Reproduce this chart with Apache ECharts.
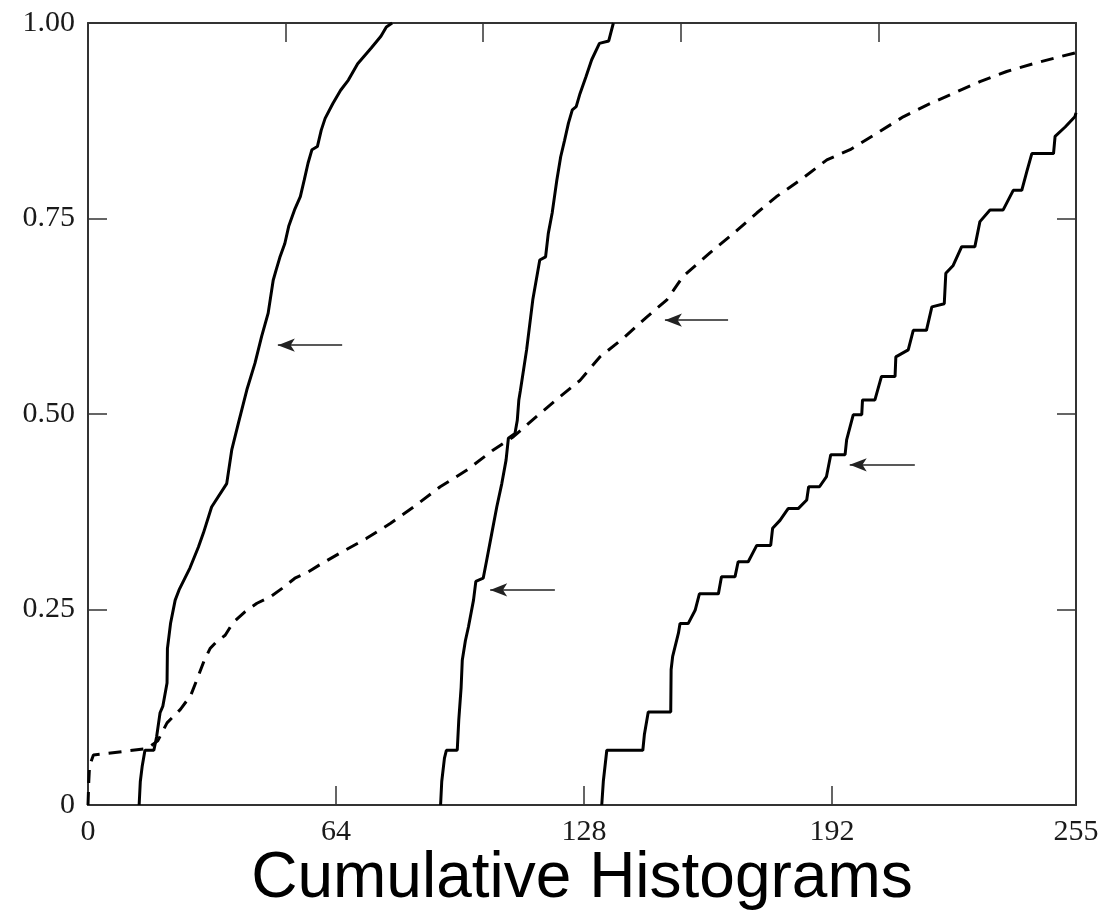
<!DOCTYPE html>
<html>
<head>
<meta charset="utf-8">
<script src="https://cdn.jsdelivr.net/npm/echarts@6/dist/echarts.min.js"></script>
<style>
html,body{margin:0;padding:0;background:#fff;}
#chart{width:1109px;height:923px;}
</style>
</head>
<body>
<div id="chart"></div>
<script>
// ---- data (x = grey level 0..255, y = cumulative fraction) ----
var titleText = 'Cumulative Histograms';
var xTickLabels = ['0', '64', '128', '192', '255'];
var yTickLabels = ['0', '0.25', '0.50', '0.75', '1.00'];

var curveLeft = [[13.2,0],[13.5,0.03],[14.0,0.05],[14.7,0.07],[17.0,0.07],[17.7,0.087],[18.6,0.118],[19.3,0.126],[20.4,0.156],[20.5,0.2],[21.3,0.232],[22.5,0.262],[23.5,0.275],[26.3,0.303],[28.5,0.33],[29.8,0.348],[31.9,0.381],[35.8,0.411],[37.1,0.454],[38.8,0.488],[41.0,0.531],[43.1,0.565],[44.8,0.599],[46.5,0.629],[47.8,0.671],[48.6,0.685],[49.5,0.70],[50.8,0.718],[51.8,0.74],[53.3,0.761],[54.8,0.778],[55.8,0.799],[56.8,0.821],[57.8,0.838],[59.2,0.842],[60.2,0.863],[61.2,0.878],[63.2,0.897],[65.2,0.914],[67.2,0.927],[69.6,0.948],[73.1,0.968],[75.6,0.983],[77.0,0.995],[78.5,1.0]];

var curveMiddle = [[91.0,0],[91.3,0.03],[92.0,0.06],[92.5,0.07],[95.3,0.07],[95.7,0.109],[96.3,0.15],[96.6,0.185],[97.4,0.21],[98.2,0.228],[99.5,0.262],[100.1,0.286],[102.0,0.29],[102.9,0.313],[104.2,0.347],[105.5,0.381],[106.8,0.411],[107.9,0.441],[108.5,0.469],[110.2,0.475],[110.8,0.492],[111.2,0.518],[111.6,0.53],[113.2,0.582],[114.8,0.646],[116.6,0.697],[118.1,0.701],[118.8,0.731],[119.8,0.757],[120.4,0.778],[121.0,0.799],[122.0,0.829],[123.0,0.85],[124.0,0.872],[125.0,0.889],[126.0,0.893],[127.0,0.91],[128.5,0.931],[130.0,0.953],[132.0,0.974],[134.4,0.977],[135.6,1.0]];

var curveRight = [[132.6,0],[133.0,0.03],[133.9,0.07],[143.2,0.07],[143.6,0.09],[144.6,0.119],[150.4,0.119],[150.5,0.173],[150.9,0.19],[152.4,0.22],[152.8,0.232],[154.9,0.232],[156.7,0.249],[157.8,0.27],[162.7,0.27],[163.5,0.292],[167.0,0.292],[167.8,0.311],[170.4,0.311],[172.6,0.332],[176.2,0.332],[176.7,0.354],[178.6,0.364],[180.7,0.379],[183.3,0.379],[185.5,0.39],[186.0,0.407],[188.8,0.407],[190.6,0.42],[191.7,0.448],[195.4,0.448],[195.8,0.467],[197.5,0.499],[199.7,0.499],[199.9,0.518],[203.1,0.518],[204.8,0.548],[208.3,0.548],[208.5,0.573],[211.7,0.582],[213.0,0.607],[216.4,0.607],[217.8,0.637],[221.0,0.641],[221.4,0.68],[223.3,0.69],[225.5,0.714],[228.9,0.714],[230.2,0.746],[232.8,0.761],[236.2,0.761],[238.8,0.786],[241.0,0.786],[242.3,0.81],[243.6,0.833],[249.2,0.833],[249.6,0.855],[252.2,0.867],[254.7,0.88],[255,0.885]];

var curveDashed = [[0,0],[0.2,0.03],[0.4,0.05],[1.4,0.064],[5,0.066],[10,0.069],[15.2,0.072],[18,0.082],[20.4,0.105],[23.8,0.122],[26.5,0.14],[28.4,0.164],[30,0.185],[31.5,0.2],[33,0.208],[35.4,0.217],[37.4,0.233],[40.5,0.247],[43.6,0.258],[47,0.266],[50.1,0.277],[53.4,0.29],[56.5,0.297],[60.4,0.309],[65,0.322],[71.9,0.341],[78,0.36],[84,0.381],[90.9,0.407],[97.7,0.428],[104.6,0.454],[109.8,0.471],[115.8,0.497],[121.8,0.522],[127,0.543],[132.1,0.573],[138.2,0.597],[144.2,0.624],[149.4,0.646],[153.6,0.676],[160.5,0.706],[166.6,0.731],[172.6,0.757],[177.7,0.778],[183.8,0.799],[190.7,0.825],[196.7,0.838],[203.6,0.859],[210.4,0.88],[216.5,0.895],[223.3,0.91],[230.2,0.925],[237.1,0.938],[244,0.948],[250.9,0.957],[255,0.962]];

// arrows: [tailX, tipX, y]
var arrowLeft = [65.6, 49.0, 0.588];
var arrowMiddle = [120.5, 103.8, 0.275];
var arrowDashed = [165.2, 148.9, 0.620];
var arrowRight = [213.4, 196.6, 0.435];

function arrowMark(a) {
  return {
    silent: true,
    symbol: ['none', 'arrow'],
    symbolSize: [10, 17],
    label: { show: false },
    emphasis: { disabled: true },
    lineStyle: { color: '#222', width: 1.5, type: 'solid' },
    data: [[{ coord: [a[0], a[2]] }, { coord: [a[1], a[2]] }]]
  };
}

var chart = echarts.init(document.getElementById('chart'), null, { renderer: 'canvas' });
var axisLineStyle = { color: '#333', width: 2 };
var tickStyle = { color: '#333', width: 1.5 };
var labelFont = { fontFamily: 'Liberation Serif', fontSize: 30, color: '#1a1a1a' };

var gridLeft = 88, gridRight = 33;

chart.setOption({
  animation: false,
  backgroundColor: '#fff',
  graphic: [{
    type: 'text',
    x: gridLeft + (1109 - gridLeft - gridRight) / 2,
    y: 847,
    style: {
      text: titleText,
      fontFamily: 'Liberation Sans',
      fontSize: 64,
      fill: '#000',
      textAlign: 'center',
      textVerticalAlign: 'top'
    }
  }],
  grid: { left: gridLeft, right: gridRight, top: 23, bottom: 118, containLabel: false },
  xAxis: [
    {
      type: 'value', position: 'bottom', min: 0, max: 255, interval: 64,
      axisLine: { show: true, onZero: false, lineStyle: axisLineStyle },
      axisTick: { show: true, inside: true, length: 19, lineStyle: tickStyle },
      axisLabel: Object.assign({ margin: 12, showMaxLabel: true, showMinLabel: true,
        formatter: function (v) { var i = [0,64,128,192,255].indexOf(v); return i >= 0 ? xTickLabels[i] : ''; } }, labelFont),
      splitLine: { show: false }
    },
    {
      type: 'value', position: 'top', min: 0, max: 255, interval: 51,
      axisLine: { show: true, onZero: false, lineStyle: axisLineStyle },
      axisTick: { show: true, inside: true, length: 19, lineStyle: tickStyle },
      axisLabel: { show: false },
      splitLine: { show: false }
    }
  ],
  yAxis: [
    {
      type: 'value', position: 'left', min: 0, max: 1, interval: 0.25,
      axisLine: { show: true, onZero: false, lineStyle: axisLineStyle },
      axisTick: { show: true, inside: true, length: 19, lineStyle: tickStyle },
      axisLabel: Object.assign({ margin: 13,
        formatter: function (v) { var i = Math.round(v / 0.25); return yTickLabels[i]; } }, labelFont),
      splitLine: { show: false }
    },
    {
      type: 'value', position: 'right', min: 0, max: 1, interval: 0.25,
      axisLine: { show: true, onZero: false, lineStyle: axisLineStyle },
      axisTick: { show: true, inside: true, length: 19, lineStyle: tickStyle },
      axisLabel: { show: false },
      splitLine: { show: false }
    }
  ],
  series: [
    { name: 'left', type: 'line', data: curveLeft, showSymbol: false, symbol: 'none',
      lineStyle: { color: '#000', width: 3 }, markLine: arrowMark(arrowLeft) },
    { name: 'middle', type: 'line', data: curveMiddle, showSymbol: false, symbol: 'none',
      lineStyle: { color: '#000', width: 3 }, markLine: arrowMark(arrowMiddle) },
    { name: 'right', type: 'line', data: curveRight, showSymbol: false, symbol: 'none',
      lineStyle: { color: '#000', width: 3 }, markLine: arrowMark(arrowRight) },
    { name: 'dashed', type: 'line', data: curveDashed, showSymbol: false, symbol: 'none',
      lineStyle: { color: '#000', width: 3, type: [13, 9] }, markLine: arrowMark(arrowDashed) }
  ]
});
</script>
</body>
</html>
